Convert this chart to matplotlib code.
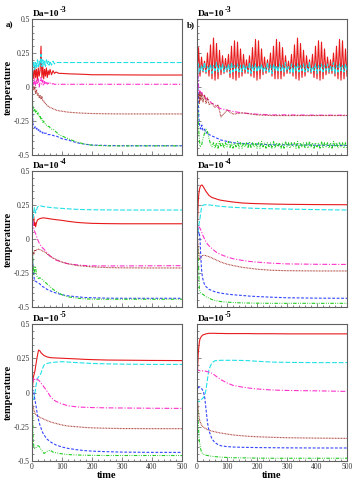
import matplotlib
matplotlib.use('Agg')
import matplotlib.pyplot as plt
from matplotlib.ticker import MultipleLocator

plt.rcParams['font.family'] = 'Liberation Serif'
plt.rcParams['lines.scale_dashes'] = False

# ---- data ----
# panels c..f share this time grid
T_GRID = [0, 2, 4, 6, 8, 10, 12, 15, 18, 22, 26, 30, 35, 40, 50, 60, 70, 80,
          100, 120, 150, 175, 200, 250, 300, 400, 500]

# panel a) Da=1e-3, left
T_A = [0, 3, 6, 9, 12, 15, 18, 21, 24, 27, 30, 33, 36, 39, 42, 45, 48, 51, 54, 57,
       60, 65, 70, 75, 80, 90, 100, 120, 150, 175, 200, 250, 300, 400, 500]
red_a = [0.0, 0.12, 0.06, 0.15, 0.07, 0.13, 0.05, 0.14, 0.08, 0.12, 0.30, 0.07, 0.15, 0.06, 0.13,
         0.08, 0.14, 0.07, 0.12, 0.09, 0.13, 0.09, 0.12, 0.10, 0.11, 0.10, 0.10, 0.097, 0.095,
         0.093, 0.09, 0.09, 0.089, 0.088, 0.088]
cyan_a = [0.0, 0.15, 0.19, 0.13, 0.18, 0.14, 0.20, 0.15, 0.19, 0.16, 0.24, 0.15, 0.20, 0.16, 0.19,
          0.15, 0.20, 0.17, 0.19, 0.16, 0.19, 0.16, 0.19, 0.17, 0.18, 0.18, 0.18, 0.18, 0.18,
          0.18, 0.18, 0.18, 0.18, 0.18, 0.18]
magenta_a = [0.0, 0.05, 0.02, 0.06, 0.01, 0.05, 0.02, 0.06, 0.0, 0.04, 0.07, 0.02, 0.05, 0.01, 0.04,
             0.02, 0.04, 0.02, 0.03, 0.02, 0.03, 0.02, 0.025, 0.02, 0.02, 0.02, 0.02, 0.02, 0.02,
             0.02, 0.02, 0.02, 0.02, 0.02, 0.02]
brown_a = [0.0, 0.02, -0.02, 0.0, -0.05, -0.02, -0.06, -0.05, -0.08, -0.06, -0.09, -0.07, -0.10,
           -0.10, -0.12, -0.12, -0.13, -0.14, -0.14, -0.145, -0.15, -0.155, -0.16, -0.165, -0.17,
           -0.175, -0.178, -0.185, -0.19, -0.193, -0.195, -0.197, -0.198, -0.198, -0.198]
blue_a = [0.0, -0.27, -0.29, -0.30, -0.29, -0.31, -0.30, -0.32, -0.31, -0.33, -0.32, -0.33, -0.34,
          -0.33, -0.34, -0.34, -0.34, -0.35, -0.35, -0.35, -0.35, -0.355, -0.355, -0.36, -0.36,
          -0.37, -0.38, -0.39, -0.41, -0.42, -0.427, -0.43, -0.432, -0.432, -0.432]
green_a = [0.0, -0.15, -0.18, -0.16, -0.19, -0.17, -0.20, -0.19, -0.22, -0.21, -0.24, -0.23, -0.26,
           -0.25, -0.27, -0.27, -0.28, -0.28, -0.29, -0.29, -0.30, -0.31, -0.31, -0.32, -0.33,
           -0.35, -0.36, -0.38, -0.405, -0.42, -0.428, -0.433, -0.433, -0.433, -0.433]

# panel b) Da=1e-3, right (oscillating run, sampled every 5 time units)
T_B = list(range(0, 501, 5))
red_b = [0.02,
         0.29, 0.08, 0.22, 0.11, 0.19, 0.10, 0.25, 0.08, 0.31, 0.06, 0.36, 0.05, 0.32, 0.06,
         0.27, 0.09, 0.23, 0.10, 0.21, 0.11, 0.24, 0.07, 0.30, 0.06, 0.34, 0.05, 0.33, 0.07,
         0.28, 0.08, 0.24, 0.10, 0.20, 0.10, 0.23, 0.08, 0.29, 0.07, 0.35, 0.05, 0.34, 0.06,
         0.28, 0.09, 0.22, 0.10, 0.20, 0.11, 0.25, 0.08, 0.30, 0.06, 0.35, 0.06, 0.33, 0.06,
         0.29, 0.08, 0.23, 0.10, 0.19, 0.10, 0.24, 0.08, 0.31, 0.06, 0.36, 0.05, 0.32, 0.07,
         0.27, 0.08, 0.23, 0.11, 0.20, 0.10, 0.24, 0.07, 0.30, 0.06, 0.34, 0.05, 0.33, 0.06,
         0.28, 0.09, 0.22, 0.10, 0.20, 0.10, 0.25, 0.08, 0.30, 0.06, 0.35, 0.05, 0.34, 0.06,
         0.28, 0.08]
cyan_b = [0.0,
          0.17, 0.11, 0.16, 0.12, 0.18, 0.11, 0.15, 0.12, 0.17, 0.10, 0.16, 0.12, 0.18, 0.11,
          0.16, 0.12, 0.17, 0.11, 0.15, 0.12, 0.17, 0.10, 0.18, 0.11, 0.16, 0.12, 0.17, 0.11,
          0.16, 0.11, 0.17, 0.12, 0.15, 0.11, 0.18, 0.10, 0.16, 0.12, 0.17, 0.11, 0.16, 0.12,
          0.17, 0.11, 0.15, 0.12, 0.18, 0.11, 0.16, 0.10, 0.17, 0.12, 0.16, 0.11, 0.17, 0.12,
          0.16, 0.11, 0.18, 0.12, 0.15, 0.11, 0.17, 0.10, 0.16, 0.12, 0.17, 0.11, 0.16, 0.12,
          0.17, 0.11, 0.16, 0.12, 0.18, 0.11, 0.15, 0.12, 0.17, 0.10, 0.16, 0.12, 0.17, 0.11,
          0.16, 0.12, 0.17, 0.11, 0.15, 0.12, 0.18, 0.10, 0.16, 0.11, 0.17, 0.12, 0.16, 0.11,
          0.17, 0.12]
green_b = [0.02, -0.30, -0.44, -0.43, -0.38, -0.34, -0.31, -0.33, -0.38, -0.42, -0.44, -0.41, -0.45,
           -0.41, -0.45, -0.40, -0.44, -0.41, -0.45, -0.41, -0.44, -0.40, -0.45, -0.41, -0.45,
           -0.41, -0.44, -0.40, -0.45, -0.41, -0.45, -0.41, -0.44, -0.41, -0.45, -0.40, -0.45,
           -0.41, -0.44, -0.41, -0.45, -0.41, -0.45, -0.40, -0.44, -0.41, -0.45, -0.41, -0.44,
           -0.41, -0.45, -0.40, -0.45, -0.41, -0.44, -0.41, -0.45, -0.41, -0.45, -0.40, -0.44,
           -0.41, -0.45, -0.41, -0.44, -0.41, -0.45, -0.40, -0.45, -0.41, -0.44, -0.41, -0.45,
           -0.41, -0.45, -0.40, -0.44, -0.41, -0.45, -0.41, -0.44, -0.41, -0.45, -0.40, -0.45,
           -0.41, -0.44, -0.41, -0.45, -0.41, -0.45, -0.40, -0.44, -0.41, -0.45, -0.41, -0.44,
           -0.41, -0.45, -0.41, -0.45]
T_B_SLOW = [0, 2, 4, 6, 8, 10, 13, 16, 20, 25, 30, 35, 40, 50, 60, 70, 80, 100, 120, 150,
            200, 250, 300, 400, 500]
magenta_b = [0.0, 0.15, 0.05, -0.02, -0.05, -0.03, -0.06, -0.04, -0.07, -0.06, -0.09, -0.08, -0.10,
             -0.12, -0.13, -0.15, -0.16, -0.17, -0.18, -0.19, -0.20, -0.205, -0.205, -0.207, -0.207]
brown_b = [0.0, -0.02, -0.08, -0.05, -0.12, -0.04, -0.10, -0.05, -0.11, -0.06, -0.12, -0.08, -0.13,
           -0.12, -0.15, -0.13, -0.22, -0.17, -0.20, -0.19, -0.205, -0.21, -0.21, -0.21, -0.21]
blue_b = [0.0, 0.08, -0.10, -0.22, -0.27, -0.29, -0.31, -0.28, -0.32, -0.31, -0.34, -0.33, -0.35,
          -0.36, -0.37, -0.38, -0.39, -0.40, -0.41, -0.415, -0.42, -0.425, -0.425, -0.428, -0.43]

# panel c) Da=1e-4, left
red_c = [0.05, 0.12, 0.18, 0.16, 0.10, 0.12, 0.09, 0.12, 0.14, 0.145, 0.15, 0.152, 0.155, 0.155,
         0.152, 0.148, 0.145, 0.142, 0.137, 0.13, 0.122, 0.118, 0.115, 0.113, 0.112, 0.112, 0.112]
cyan_c = [0.0, 0.08, 0.14, 0.20, 0.23, 0.22, 0.19, 0.21, 0.235, 0.24, 0.245, 0.243, 0.24, 0.238,
          0.235, 0.232, 0.23, 0.228, 0.225, 0.222, 0.218, 0.216, 0.215, 0.214, 0.213, 0.213, 0.213]
magenta_c = [0.10, 0.15, 0.12, 0.08, 0.06, 0.05, 0.04, 0.02, 0.0, -0.02, -0.04, -0.05, -0.065,
             -0.075, -0.10, -0.125, -0.14, -0.155, -0.17, -0.182, -0.19, -0.195, -0.197, -0.198,
             -0.198, -0.197, -0.196]
brown_c = [-0.05, -0.12, -0.10, -0.11, -0.09, -0.08, -0.09, -0.08, -0.075, -0.075, -0.078, -0.082,
           -0.088, -0.092, -0.11, -0.125, -0.14, -0.15, -0.17, -0.182, -0.195, -0.20, -0.205,
           -0.21, -0.212, -0.213, -0.213]
blue_c = [-0.05, -0.15, -0.22, -0.27, -0.30, -0.31, -0.31, -0.315, -0.32, -0.325, -0.33, -0.34,
          -0.35, -0.355, -0.37, -0.38, -0.39, -0.397, -0.41, -0.418, -0.425, -0.43, -0.432,
          -0.435, -0.436, -0.436, -0.436]
green_c = [0.0, -0.10, -0.20, -0.26, -0.24, -0.20, -0.21, -0.26, -0.28, -0.29, -0.285, -0.29,
           -0.30, -0.31, -0.33, -0.35, -0.37, -0.385, -0.41, -0.425, -0.435, -0.44, -0.442,
           -0.443, -0.443, -0.443, -0.443]

# panel d) Da=1e-4, right
red_d = [0.0, 0.15, 0.27, 0.33, 0.36, 0.38, 0.39, 0.397, 0.395, 0.38, 0.365, 0.35, 0.335, 0.32,
         0.305, 0.298, 0.29, 0.285, 0.278, 0.272, 0.265, 0.262, 0.26, 0.257, 0.255, 0.253, 0.252]
cyan_d = [0.0, 0.02, 0.05, 0.10, 0.13, 0.15, 0.19, 0.23, 0.245, 0.25, 0.252, 0.252, 0.251, 0.25,
          0.248, 0.245, 0.242, 0.24, 0.236, 0.233, 0.23, 0.227, 0.225, 0.222, 0.22, 0.216, 0.213]
magenta_d = [0.02, 0.05, 0.08, 0.09, 0.085, 0.078, 0.07, 0.055, 0.035, 0.015, -0.005, -0.02,
             -0.038, -0.05, -0.07, -0.09, -0.105, -0.115, -0.132, -0.145, -0.157, -0.165, -0.17,
             -0.178, -0.183, -0.186, -0.187]
brown_d = [0.05, 0.0, -0.06, -0.11, -0.15, -0.15, -0.14, -0.13, -0.122, -0.12, -0.12, -0.123,
           -0.127, -0.13, -0.14, -0.15, -0.16, -0.17, -0.185, -0.195, -0.208, -0.215, -0.222,
           -0.23, -0.233, -0.235, -0.235]
blue_d = [0.0, 0.03, 0.05, 0.05, 0.04, 0.0, -0.10, -0.22, -0.28, -0.315, -0.34, -0.35, -0.36,
          -0.37, -0.38, -0.388, -0.394, -0.398, -0.405, -0.41, -0.415, -0.42, -0.423, -0.428,
          -0.432, -0.435, -0.436]
green_d = [0.0, -0.06, -0.13, -0.25, -0.37, -0.39, -0.395, -0.40, -0.405, -0.41, -0.42, -0.425,
           -0.43, -0.435, -0.445, -0.452, -0.457, -0.46, -0.464, -0.467, -0.47, -0.471, -0.472,
           -0.473, -0.473, -0.473, -0.473]

# panel e) Da=1e-5, left
red_e = [0.0, 0.05, 0.10, 0.125, 0.14, 0.16, 0.19, 0.23, 0.27, 0.31, 0.305, 0.29, 0.28, 0.27,
         0.26, 0.255, 0.253, 0.252, 0.25, 0.248, 0.245, 0.242, 0.24, 0.237, 0.236, 0.234, 0.233]
cyan_e = [0.0, -0.03, -0.05, -0.05, -0.03, 0.0, 0.03, 0.07, 0.10, 0.115, 0.125, 0.14, 0.175, 0.20,
          0.212, 0.217, 0.22, 0.222, 0.225, 0.222, 0.218, 0.215, 0.212, 0.209, 0.207, 0.205, 0.205]
magenta_e = [0.05, 0.115, 0.085, 0.08, 0.09, 0.10, 0.103, 0.10, 0.095, 0.09, 0.08, 0.068, 0.055,
             0.04, 0.01, -0.025, -0.05, -0.065, -0.083, -0.097, -0.105, -0.108, -0.11, -0.112,
             -0.113, -0.115, -0.116]
brown_e = [-0.05, -0.09, -0.11, -0.125, -0.14, -0.15, -0.158, -0.165, -0.172, -0.177, -0.18,
           -0.185, -0.19, -0.195, -0.205, -0.213, -0.22, -0.226, -0.237, -0.245, -0.25, -0.255,
           -0.258, -0.261, -0.263, -0.264, -0.264]
blue_e = [0.0, 0.01, 0.015, 0.0, -0.03, -0.055, -0.08, -0.12, -0.16, -0.20, -0.235, -0.26, -0.29,
          -0.31, -0.34, -0.358, -0.372, -0.383, -0.398, -0.408, -0.418, -0.424, -0.428, -0.432,
          -0.435, -0.437, -0.437]
green_e = [-0.10, -0.13, -0.33, -0.40, -0.405, -0.41, -0.408, -0.395, -0.39, -0.39, -0.40, -0.415,
           -0.43, -0.445, -0.43, -0.42, -0.435, -0.44, -0.448, -0.453, -0.456, -0.458, -0.459,
           -0.46, -0.46, -0.46, -0.46]

# panel f) Da=1e-5, right
red_f = [0.02, 0.18, 0.28, 0.33, 0.37, 0.39, 0.40, 0.41, 0.418, 0.422, 0.425, 0.428, 0.43, 0.432,
         0.432, 0.432, 0.431, 0.431, 0.43, 0.43, 0.43, 0.43, 0.429, 0.429, 0.428, 0.428, 0.428]
cyan_f = [0.0, -0.06, -0.068, -0.067, -0.065, -0.06, -0.055, -0.05, -0.045, -0.035, -0.02, 0.02,
          0.10, 0.17, 0.218, 0.232, 0.234, 0.235, 0.235, 0.235, 0.234, 0.232, 0.228, 0.222,
          0.22, 0.218, 0.218]
magenta_f = [0.15, 0.164, 0.163, 0.162, 0.161, 0.16, 0.16, 0.159, 0.158, 0.158, 0.157, 0.155,
             0.152, 0.148, 0.14, 0.125, 0.108, 0.093, 0.07, 0.052, 0.04, 0.032, 0.026, 0.018,
             0.015, 0.012, 0.008]
brown_f = [0.05, -0.05, -0.12, -0.165, -0.195, -0.21, -0.225, -0.237, -0.245, -0.252, -0.26,
           -0.265, -0.27, -0.275, -0.282, -0.287, -0.292, -0.296, -0.303, -0.31, -0.316, -0.32,
           -0.323, -0.327, -0.33, -0.333, -0.335]
blue_f = [0.0, 0.02, 0.03, 0.04, 0.04, 0.04, 0.035, 0.03, 0.02, 0.0, -0.04, -0.12, -0.22, -0.28,
          -0.34, -0.366, -0.38, -0.389, -0.395, -0.398, -0.40, -0.401, -0.402, -0.403, -0.404,
          -0.405, -0.405]
green_f = [0.0, -0.12, -0.22, -0.30, -0.36, -0.38, -0.41, -0.435, -0.445, -0.45, -0.456, -0.458,
           -0.46, -0.462, -0.466, -0.468, -0.47, -0.472, -0.474, -0.476, -0.477, -0.478, -0.479,
           -0.48, -0.48, -0.48, -0.48]

y_ticks = [-0.5, -0.25, 0, 0.25, 0.5]
y_tick_labels = ['-0.5', '-0.25', '0', '0.25', '0.5']
x_ticks = [0, 100, 200, 300, 400, 500]
da_exponents = ['-3', '-4', '-5']

# line styles: red solid, cyan long dash, magenta dash-dot, brown dots,
# blue short dash, green dash-dot-dot
STYLES = {
    'red': dict(color='#e8191b', ls='-'),
    'cyan': dict(color='#22e0e8', ls=(0, (3.5, 1.3))),
    'magenta': dict(color='#ff33cc', ls=(0, (3.5, 1.2, 0.8, 1.2))),
    'brown': dict(color='#a8352f', ls=(0, (0.6, 0.5))),
    'blue': dict(color='#3344ff', ls=(0, (2.0, 1.2))),
    'green': dict(color='#22cc22', ls=(0, (2.5, 1.0, 0.6, 1.0, 0.6, 1.0))),
}

fig = plt.figure(figsize=(3.62, 4.8), dpi=100)
col_x = [32 / 362, 197 / 362]
col_w = 150 / 362
rows = [(1 - 155 / 480, 136 / 480), (1 - 307 / 480, 136 / 480), (1 - 461 / 480, 137 / 480)]

panels = [
    (0, 0, [(T_A, red_a, 'red'), (T_A, cyan_a, 'cyan'), (T_A, magenta_a, 'magenta'),
            (T_A, brown_a, 'brown'), (T_A, blue_a, 'blue'), (T_A, green_a, 'green')]),
    (0, 1, [(T_B, red_b, 'red'), (T_B, cyan_b, 'cyan'), (T_B_SLOW, magenta_b, 'magenta'),
            (T_B_SLOW, brown_b, 'brown'), (T_B_SLOW, blue_b, 'blue'), (T_B, green_b, 'green')]),
    (1, 0, [(T_GRID, red_c, 'red'), (T_GRID, cyan_c, 'cyan'), (T_GRID, magenta_c, 'magenta'),
            (T_GRID, brown_c, 'brown'), (T_GRID, blue_c, 'blue'), (T_GRID, green_c, 'green')]),
    (1, 1, [(T_GRID, red_d, 'red'), (T_GRID, cyan_d, 'cyan'), (T_GRID, magenta_d, 'magenta'),
            (T_GRID, brown_d, 'brown'), (T_GRID, blue_d, 'blue'), (T_GRID, green_d, 'green')]),
    (2, 0, [(T_GRID, red_e, 'red'), (T_GRID, cyan_e, 'cyan'), (T_GRID, magenta_e, 'magenta'),
            (T_GRID, brown_e, 'brown'), (T_GRID, blue_e, 'blue'), (T_GRID, green_e, 'green')]),
    (2, 1, [(T_GRID, red_f, 'red'), (T_GRID, cyan_f, 'cyan'), (T_GRID, magenta_f, 'magenta'),
            (T_GRID, brown_f, 'brown'), (T_GRID, blue_f, 'blue'), (T_GRID, green_f, 'green')]),
]

for row, col, series in panels:
    bottom, height = rows[row]
    ax = fig.add_axes([col_x[col], bottom, col_w, height])
    for t, vals, name in series:
        st = STYLES[name]
        ax.plot(t, vals, color=st['color'], linestyle=st['ls'], lw=0.8)
    ax.set_xlim(0, 500)
    ax.set_ylim(-0.5, 0.5)
    ax.set_xticks(x_ticks)
    ax.xaxis.set_minor_locator(MultipleLocator(20))
    ax.set_yticks(y_ticks)
    ax.yaxis.set_minor_locator(MultipleLocator(0.05))
    ax.tick_params(which='both', direction='in', colors='#555555', width=0.5,
                   labelsize=5.5, labelcolor='#333333', pad=1.5)
    ax.tick_params(which='major', length=3)
    ax.tick_params(which='minor', length=1.5)
    for sp in ax.spines.values():
        sp.set_color('#606060')
        sp.set_linewidth(0.8)
    if col == 0:
        ax.set_yticklabels(y_tick_labels)
        ax.set_ylabel('temperature', fontsize=7.5, fontweight='bold', labelpad=1)
    else:
        ax.set_yticklabels([])
    if row == 2:
        ax.set_xticklabels([str(v) for v in x_ticks])
        ax.set_xlabel('time', fontsize=7.5, fontweight='bold', labelpad=0)
    else:
        ax.set_xticklabels([])
    # "Da=10" with a raised exponent placed right after it
    base = ax.text(0.005, 1.005, 'Da=10', transform=ax.transAxes, fontsize=6.8,
                   fontweight='bold', ha='left', va='bottom')
    ax.annotate(da_exponents[row], xy=(1.0, 0.55), xycoords=base,
                xytext=(0.3, 0), textcoords='offset points', fontsize=5.8,
                fontweight='bold', ha='left', va='bottom')

fig.text(6 / 362, 1 - 27 / 480, 'a)', fontsize=6.5, fontweight='bold', ha='left', va='baseline')
fig.text(187 / 362, 1 - 27 / 480, 'b)', fontsize=6.5, fontweight='bold', ha='left', va='baseline')

fig.savefig('out.png', dpi=100)
